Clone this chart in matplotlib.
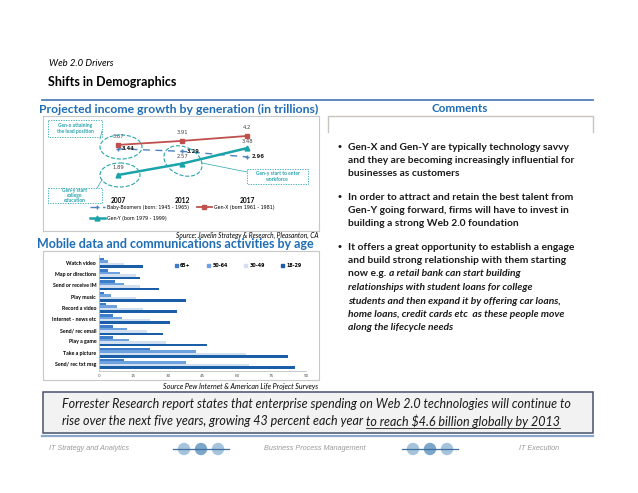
import matplotlib
matplotlib.use("Agg")
import matplotlib.pyplot as plt
from matplotlib.patches import Rectangle, Ellipse, Circle, Patch

# ---- data ----
years = [2007, 2012, 2017]
boomers = [3.44, 3.29, 2.96]
gen_x = [3.67, 3.91, 4.2]
gen_y = [1.89, 2.57, 3.48]

activities = ["Watch video", "Map or directions", "Send or receive IM", "Play music",
              "Record a video", "Internet - news etc", "Send/ rec email", "Play a game",
              "Take a picture", "Send/ rec txt msg"]
age_groups = ["65+", "50-64", "30-49", "18-29"]
age_65 = [2, 4, 7, 2, 3, 6, 6, 6, 22, 11]
age_50 = [4, 9, 11, 5, 8, 10, 12, 13, 42, 38]
age_30 = [11, 16, 18, 16, 19, 22, 21, 29, 64, 65]
age_18 = [19, 18, 26, 38, 34, 31, 28, 47, 82, 85]
bar_ticks = [0, 15, 30, 45, 60, 75, 90]

W, H = 638, 493
CAL = "Lato"
BLUE_T = "#1f6db5"
TEAL = "#2aa3ad"

fig = plt.figure(figsize=(W / 100, H / 100), dpi=100)
ov = fig.add_axes([0, 0, 1, 1])
ov.set_xlim(0, W)
ov.set_ylim(H, 0)
ov.axis("off")


def rect(x0, y0, x1, y1):
    return [x0 / W, 1 - y1 / H, (x1 - x0) / W, (y1 - y0) / H]


# ---- headings ----
ov.text(49, 64, "Web 2.0 Drivers", family=CAL, style="italic", fontsize=6.8, va="center")
ov.text(48, 82, "Shifts in Demographics", family=CAL, weight="bold", fontsize=9, va="center")
ov.plot([42, 593], [100, 100], color="#4f7fb5", lw=1.3)
ov.text(39, 109, "Projected income growth by generation (in trillions)", family=CAL,
        weight="bold", fontsize=8.8, color=BLUE_T, va="center")
ov.text(460, 109, "Comments", family=CAL, weight="bold", fontsize=8.4, color=BLUE_T,
        va="center", ha="center")

# comments box (top edge only shows)
ov.plot([328, 328, 593, 593], [132, 116, 116, 132], color="#c8c4be", lw=1)

# ---- line chart ----
ax1 = fig.add_axes(rect(43, 116, 319, 231))
ax1.set_xlim(2001.19, 2022.58)
ax1.set_ylim(-1.42, 5.38)
ax1.set_xticks([])
ax1.set_yticks([])
for s in ax1.spines.values():
    s.set_color("#c8c8c8")
    s.set_linewidth(0.8)

l_b, = ax1.plot(years, boomers, color="#4f81bd", lw=1, ls=(0, (5, 4)), marker="+", ms=3.5,
                label="Baby-Boomers (born: 1945 - 1965)")
l_x, = ax1.plot(years, gen_x, color="#c0504d", lw=1.3, marker="s", ms=3,
                label="Gen-X (born 1961 - 1981)")
l_y, = ax1.plot(years, gen_y, color="#1aa3a8", lw=1.8, marker="^", ms=3.5,
                label="Gen-Y (born 1979 - 1999)")
for xv, v in zip(years, gen_x):
    ax1.annotate(f"{v:g}", (xv, v), xytext=(0, 5), textcoords="offset points",
                 ha="center", fontsize=3.8, color="#444444")
for xv, v in zip(years, boomers):
    ax1.annotate(f"{v:.2f}", (xv, v), xytext=(3, 0), textcoords="offset points",
                 ha="left", va="center", fontsize=3.8, color="#222222", weight="bold")
for xv, v in zip(years, gen_y):
    ax1.annotate(f"{v:.2f}", (xv, v), xytext=(0, 4), textcoords="offset points",
                 ha="center", fontsize=3.8, color="#444444")
for xv in years:
    ax1.text(xv, 0.41, str(xv), ha="center", va="center", fontsize=4.8, weight="bold",
             family=CAL)
ax1.legend([l_b, l_y, l_x], [l_b.get_label(), l_y.get_label(), l_x.get_label()],
           ncol=2, loc="upper left", bbox_to_anchor=(0.16, 0.25), frameon=False,
           fontsize=3.4, handlelength=3.2, labelspacing=1.3, columnspacing=1.5,
           borderpad=0, handletextpad=0.6)
ov.text(318, 235, "Source: Javelin Strategy & Research, Pleasanton, CA", family=CAL,
        style="italic", fontsize=4.8, ha="right", va="center")

# ---- annotations over line chart ----
an = fig.add_axes([0, 0, 1, 1], zorder=5)
an.set_xlim(0, W)
an.set_ylim(H, 0)
an.axis("off")
an.patch.set_alpha(0)
for cx, cy, ew, eh, ang in [(121, 147, 42, 24, 0), (120, 175, 40, 24, 0), (183, 161, 40, 28, 25)]:
    an.add_patch(Ellipse((cx, cy), ew, eh, angle=ang, fill=False, ec=TEAL, lw=0.8, ls="--"))
for x0, y0, x1, y1 in [(48, 120, 102, 137), (48, 188, 102, 203), (247, 169, 308, 184)]:
    an.add_patch(Rectangle((x0, y0), x1 - x0, y1 - y0, fill=False, ec=TEAL, lw=0.6,
                           ls=(0, (1.5, 1.5))))
an.text(75, 128.5, "Gen-x attaining\nthe lead position", ha="center", va="center",
        fontsize=3.6, color=TEAL, family=CAL, weight="bold", linespacing=1.3)
an.text(75, 195.5, "Gen-y start\ncollege\neducation", ha="center", va="center",
        fontsize=3.6, color=TEAL, family=CAL, weight="bold", linespacing=1.1)
an.text(277.5, 176.5, "Gen-y start to enter\nworkforce", ha="center", va="center",
        fontsize=3.6, color=TEAL, family=CAL, weight="bold", linespacing=1.3)
an.plot([102, 100], [131, 139], color=TEAL, lw=0.5)
an.plot([97, 102], [188, 180], color=TEAL, lw=0.5)
an.plot([247, 202], [172, 163], color=TEAL, lw=0.5)

# ---- bar chart ----
ov.text(37, 244, "Mobile data and communications activities by age", family=CAL,
        weight="bold", fontsize=9.0, color=BLUE_T, va="center")
ov.add_patch(Rectangle((43, 251), 276, 129, fill=False, ec="#c8c8c8", lw=0.8))
ax2 = fig.add_axes(rect(99, 255, 306, 371))
series = [age_65, age_50, age_30, age_18]
colors = ["#3d7cc9", "#6ea2de", "#d3e0f0", "#1b5ea8"]
bh = 0.22
for k, (vals, c, lab) in enumerate(zip(series, colors, age_groups)):
    pos = [i + (k - 1.5) * bh for i in range(len(activities))]
    ax2.barh(pos, vals, height=bh, color=c, label=lab)
ax2.set_xlim(0, 90)
ax2.set_ylim(9.64, -0.71)
ax2.set_yticks(range(len(activities)), activities)
ax2.set_xticks(bar_ticks, [str(t) for t in bar_ticks])
ax2.tick_params(axis="y", length=0, pad=2, labelsize=3.8)
ax2.tick_params(axis="x", length=0, pad=2, labelsize=3, labelcolor="#555555")
for lab in ax2.get_yticklabels():
    lab.set_fontweight("bold")
    lab.set_family(CAL)
for side in ["top", "right"]:
    ax2.spines[side].set_visible(False)
for side in ["left", "bottom"]:
    ax2.spines[side].set_color("#bfbfbf")
    ax2.spines[side].set_linewidth(0.6)
handles = [Patch(color=c) for c in colors]
ax2.legend(handles, age_groups, ncol=4, loc="upper right", bbox_to_anchor=(1.0, 0.97),
           frameon=False, prop={"size": 3.4, "weight": "bold"}, handlelength=0.6,
           handleheight=0.6, columnspacing=3.5, handletextpad=0.5)
ov.text(318, 386, "Source Pew Internet & American Life Project Surveys", family=CAL,
        style="italic", fontsize=5.1, ha="right", va="center")

# ---- comments ----
renderer = fig.canvas.get_renderer()


def runs(x, y, parts, size):
    for s, st in parts:
        t = ov.text(x, y, s, family=CAL, weight="bold", fontsize=size, va="center",
                    style=st, color="#1a1a1a")
        x += t.get_window_extent(renderer).width
    return x


BS = 7.4
lines = [
    ("•", [("Gen-X and Gen-Y are typically technology savvy", "normal")], 147),
    (None, [("and they are becoming increasingly influential for", "normal")], 160.5),
    (None, [("businesses as customers", "normal")], 174),
    ("•", [("In order to attract and retain the best talent from", "normal")], 197),
    (None, [("Gen-Y going forward, firms will have to invest in", "normal")], 210.5),
    (None, [("building a strong Web 2.0 foundation", "normal")], 224),
    ("•", [("It offers a great opportunity to establish a engage", "normal")], 247),
    (None, [("and build strong relationship with them starting", "normal")], 260.5),
    (None, [("now e.g. ", "normal"), ("a retail bank can start building", "italic")], 274),
    (None, [("relationships with student loans for college", "italic")], 287.5),
    (None, [("students and then expand it by offering car loans,", "italic")], 301),
    (None, [("home loans, credit cards etc  as these people move", "italic")], 314.5),
    (None, [("along the lifecycle needs", "italic")], 328),
]
for b, parts, y in lines:
    if b:
        ov.text(336, y, b, fontsize=BS, va="center", color="#1a1a1a")
    runs(348, y, parts, BS)

# ---- bottom box ----
ov.add_patch(Rectangle((43, 392), 550, 41, fc="#f2f2f2", ec="#45526a", lw=1.1))
BT = 9.0
ov.text(62, 404, "Forrester Research report states that enterprise spending on Web 2.0 "
        "technologies will continue to", family=CAL, style="italic", fontsize=BT,
        va="center", color="#1a1a1a")
t1 = ov.text(62, 421, "rise over the next five years, growing 43 percent each year ",
             family=CAL, style="italic", fontsize=BT, va="center", color="#1a1a1a")
x2 = 62 + t1.get_window_extent(renderer).width
t2 = ov.text(x2, 421, "to reach $4.6 billion globally by 2013", family=CAL, style="italic",
             fontsize=BT, va="center", color="#1a1a1a")
w2 = t2.get_window_extent(renderer).width
ov.plot([x2, x2 + w2], [428, 428], color="#1a1a1a", lw=0.6)

# ---- footer ----
ov.plot([42, 593], [436, 436], color="#8aa8cc", lw=1.6)
FS = dict(family="Liberation Sans", style="italic", fontsize=5.2, color="#9a9a9a",
          va="center")
ov.text(49, 449, "IT Strategy and Analytics", **FS)
ov.text(264, 449, "Business Process Management", **FS)
ov.text(519, 449, "IT Execution", **FS)
for gx in [184, 413]:
    for j, c in enumerate(["#9dbdd9", "#6e9ec6", "#9dbdd9"]):
        ov.add_patch(Circle((gx + 17 * j, 449), 6.2, fc=c, ec="none", alpha=0.9))
    ov.plot([gx - 11, gx + 45], [449, 449], color="#3f6f9f", lw=0.9)

fig.savefig("out.png", dpi=100)
